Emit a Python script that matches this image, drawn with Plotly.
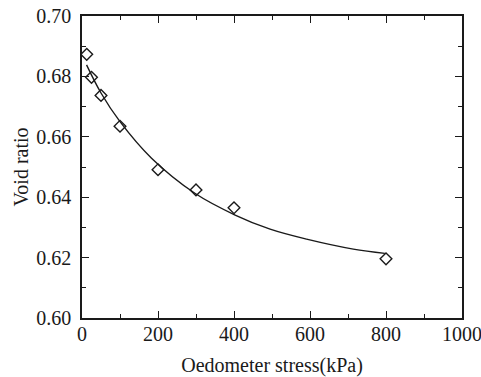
import plotly.graph_objects as go

# Measured data (oedometer test)
stress_kpa = [12.5, 25, 50, 100, 200, 300, 400, 800]
void_ratio = [0.6873, 0.6797, 0.6737, 0.6635, 0.6491, 0.6424, 0.6365, 0.6196]

# Fitted curve
fit_stress = [12, 50, 100, 183, 297, 403, 495, 591, 714, 797]
fit_void = [0.6838, 0.6745, 0.6650, 0.6529, 0.6413, 0.6341, 0.6294, 0.6261, 0.6228, 0.6214]

x_ticks = [0, 200, 400, 600, 800, 1000]
y_ticks = [0.60, 0.62, 0.64, 0.66, 0.68, 0.70]
y_tick_text = ["0.60", "0.62", "0.64", "0.66", "0.68", "0.70"]

FONT = "Liberation Serif"
INK = "#1a1a1a"

fig = go.Figure()
fig.add_trace(go.Scatter(
    x=fit_stress, y=fit_void, mode="lines",
    line=dict(color=INK, width=1.4, shape="spline", smoothing=1.0),
    showlegend=False, hoverinfo="skip"))
fig.add_trace(go.Scatter(
    x=stress_kpa, y=void_ratio, mode="markers",
    marker=dict(symbol="diamond-open", size=9, color=INK, line=dict(width=1.4, color=INK)),
    showlegend=False))

axis_common = dict(
    showline=True, linecolor=INK, linewidth=1.5, mirror="ticks",
    ticks="inside", ticklen=7, tickwidth=1.3, tickcolor=INK,
    showgrid=False, zeroline=False, automargin=False,
    ticklabeloverflow="allow",
    tickfont=dict(family=FONT, size=20, color=INK),
)

fig.update_xaxes(
    range=[0, 1000], tickvals=x_ticks, ticklabelstandoff=-3,
    minor=dict(dtick=100, ticks="inside", ticklen=4, tickwidth=1.2, tickcolor=INK, showgrid=False),
    title=dict(text="Oedometer stress(kPa)", font=dict(family=FONT, size=20, color=INK), standoff=15),
    **axis_common)
fig.update_yaxes(
    range=[0.60, 0.70], tickvals=y_ticks, ticktext=y_tick_text, ticklabelstandoff=5,
    minor=dict(dtick=0.01, ticks="inside", ticklen=4, tickwidth=1.2, tickcolor=INK, showgrid=False),
    title=dict(text="Void ratio", font=dict(family=FONT, size=20, color=INK), standoff=2),
    **axis_common)

fig.update_layout(
    width=481, height=377,
    margin=dict(l=82, r=19, t=16, b=59),
    paper_bgcolor="white", plot_bgcolor="white",
)

fig.write_html(
    "out.html",
    config={"displayModeBar": False},
    post_script="document.body.style.margin='0px';document.body.style.overflow='hidden';",
)
